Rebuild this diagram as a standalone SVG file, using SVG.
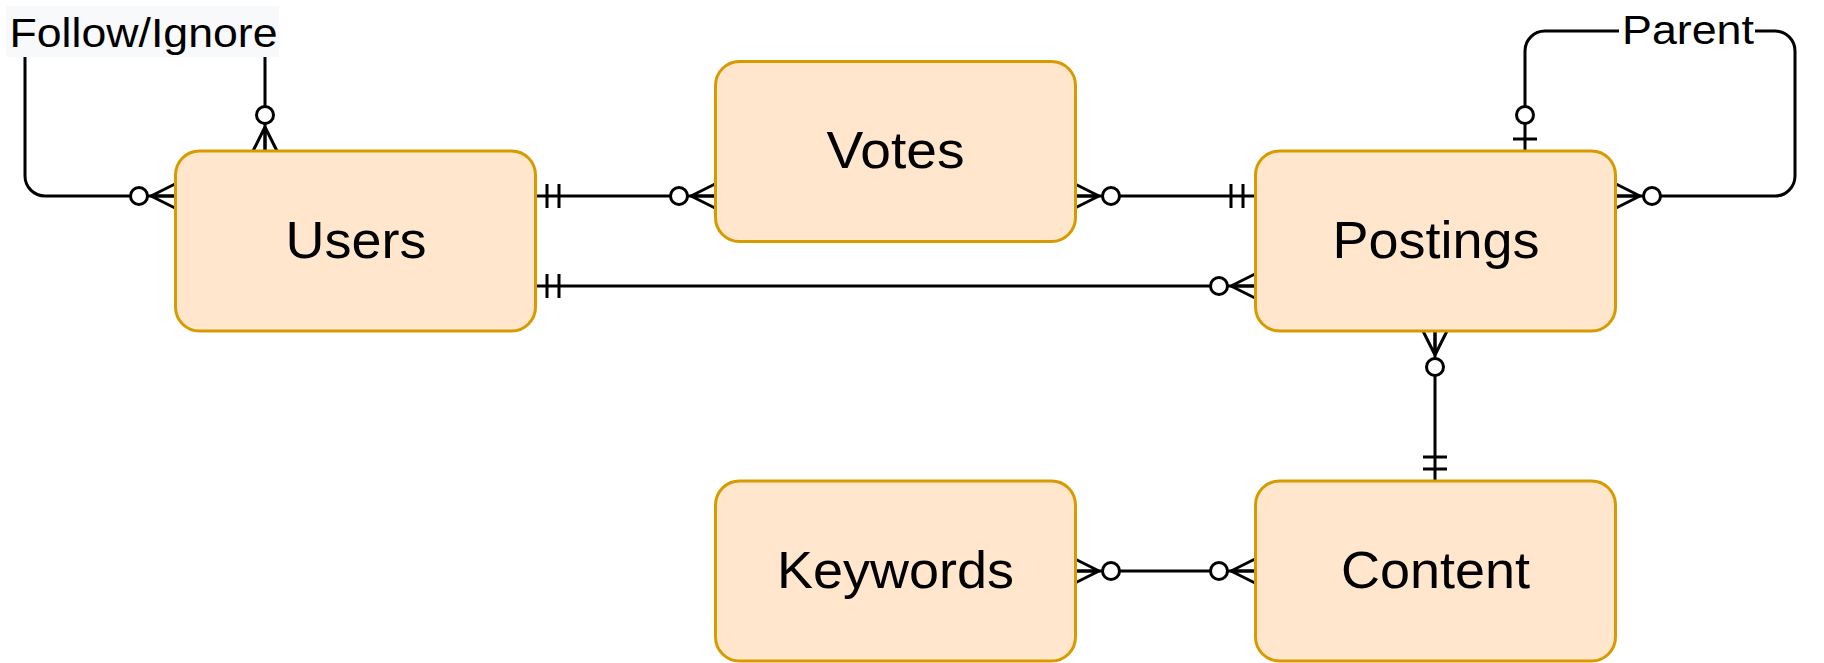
<svg xmlns="http://www.w3.org/2000/svg" width="1824" height="663" viewBox="0 0 1824 663">
<style>
  .node rect { fill: #ffe6cc; stroke: #d79b00; stroke-width: 3; }
  .node text { font-family: "Liberation Sans", Arial, sans-serif; font-size: 52px; fill: #000; text-anchor: middle; }
  .edge { fill: none; stroke: #000; stroke-width: 3; }
  .elabel { font-family: "Liberation Sans", Arial, sans-serif; font-size: 41px; fill: #000; }
  .mk { fill: none; stroke: #000; stroke-width: 3; }
  .mkc { fill: #fff; stroke: #000; stroke-width: 3; }
</style>
<defs>
  <marker id="zeroMany" markerUnits="userSpaceOnUse" orient="auto-start-reverse" refX="0" refY="0" markerWidth="60" markerHeight="40" viewBox="-50 -20 60 40" overflow="visible">
    <path class="mk" d="M-24,0 L0,-12 M-24,0 L0,12 M-24,0 L0,0"/>
    <circle class="mkc" cx="-36" cy="0" r="8.5"/>
  </marker>
  <marker id="mandOne" markerUnits="userSpaceOnUse" orient="auto-start-reverse" refX="0" refY="0" markerWidth="60" markerHeight="40" viewBox="-50 -20 60 40" overflow="visible">
    <path class="mk" d="M-12,-12 V12 M-24,-12 V12"/>
  </marker>
  <marker id="zeroOne" markerUnits="userSpaceOnUse" orient="auto-start-reverse" refX="0" refY="0" markerWidth="60" markerHeight="40" viewBox="-50 -20 60 40" overflow="visible">
    <path class="mk" d="M-12,-12 V12"/>
    <circle class="mkc" cx="-36" cy="0" r="8.5"/>
  </marker>
</defs>

<g id="connectors">
  <path class="edge" d="M535,196 H715" marker-start="url(#mandOne)" marker-end="url(#zeroMany)"/>
  <path class="edge" d="M1075,196 H1255" marker-start="url(#zeroMany)" marker-end="url(#mandOne)"/>
  <path class="edge" d="M535,286 H1255" marker-start="url(#mandOne)" marker-end="url(#zeroMany)"/>
  <path class="edge" d="M1435,331 V481" marker-start="url(#zeroMany)" marker-end="url(#mandOne)"/>
  <path class="edge" d="M1075,571 H1255" marker-start="url(#zeroMany)" marker-end="url(#zeroMany)"/>
  <path class="edge" d="M175,196 H45 A20,20 0 0 1 25,176 V51 A20,20 0 0 1 45,31 H245 A20,20 0 0 1 265,51 V151" marker-start="url(#zeroMany)" marker-end="url(#zeroMany)"/>
  <path class="edge" d="M1616,196 H1775 A20,20 0 0 0 1795,176 V51 A20,20 0 0 0 1775,31 H1545 A20,20 0 0 0 1525,51 V151" marker-start="url(#zeroMany)" marker-end="url(#zeroOne)"/>
  <g id="label-follow">
    <rect x="6" y="6" width="273" height="51" fill="#f8f9fa"/>
    <text class="elabel" x="9.5" y="46.5" textLength="268" lengthAdjust="spacingAndGlyphs">Follow/Ignore</text>
  </g>
  <g id="label-parent">
    <rect x="1619" y="12" width="136" height="40" fill="#ffffff"/>
    <text class="elabel" x="1622" y="44.3" textLength="132" lengthAdjust="spacingAndGlyphs">Parent</text>
  </g>
</g>

<g id="node-users" class="node">
  <rect x="175.5" y="151" width="360" height="180" rx="24" ry="24"/>
  <text x="356" y="257.5" textLength="141" lengthAdjust="spacingAndGlyphs">Users</text>
</g>
<g id="node-votes" class="node">
  <rect x="715.5" y="61.5" width="360" height="180" rx="24" ry="24"/>
  <text x="895.5" y="168" textLength="138" lengthAdjust="spacingAndGlyphs">Votes</text>
</g>
<g id="node-postings" class="node">
  <rect x="1255.5" y="151" width="360" height="180" rx="24" ry="24"/>
  <text x="1436" y="257.5" textLength="207" lengthAdjust="spacingAndGlyphs">Postings</text>
</g>
<g id="node-keywords" class="node">
  <rect x="715.5" y="481" width="360" height="180" rx="24" ry="24"/>
  <text x="895.5" y="588" textLength="237" lengthAdjust="spacingAndGlyphs">Keywords</text>
</g>
<g id="node-content" class="node">
  <rect x="1255.5" y="481" width="360" height="180" rx="24" ry="24"/>
  <text x="1435.5" y="588" textLength="189" lengthAdjust="spacingAndGlyphs">Content</text>
</g>
</svg>
